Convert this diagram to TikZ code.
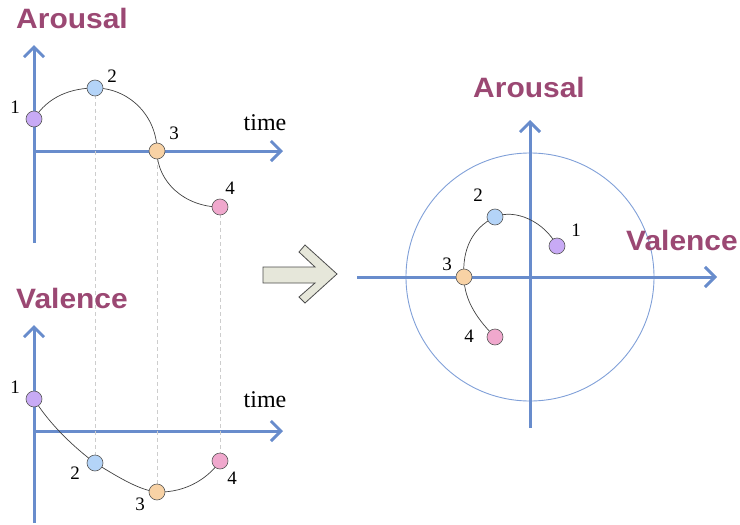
\documentclass[tikz,border=0pt]{standalone}
\usepackage{fontspec}
\setmainfont{Liberation Serif}
\newfontfamily\labfont{Liberation Sans}
\usetikzlibrary{arrows.meta,backgrounds}
\definecolor{labpurple}{RGB}{155,72,115}
\definecolor{axisblue}{RGB}{104,140,204}
\definecolor{ringblue}{RGB}{128,160,216}
\definecolor{ptone}{RGB}{200,170,245}
\definecolor{pttwo}{RGB}{180,212,248}
\definecolor{ptthree}{RGB}{248,210,165}
\definecolor{ptfour}{RGB}{240,168,205}
\definecolor{arrowfill}{RGB}{230,231,218}
\definecolor{guidegray}{RGB}{205,205,205}
\tikzset{
  pt/.style={circle,draw=black!65,line width=0.6pt,minimum size=16pt,inner sep=0pt},
  axisline/.style={draw=axisblue,line width=3pt,-{Straight Barb[length=10pt,width=20pt]}},
  curveline/.style={draw=black!75,line width=0.7pt},
  guide/.style={draw=guidegray,line width=0.8pt,dash pattern=on 4pt off 3pt},
  axislabel/.style={font=\labfont\bfseries\fontsize{28}{28}\selectfont,text=labpurple,xscale=1.07,inner sep=0pt,anchor=base},
  numlabel/.style={font=\fontsize{19}{19}\selectfont,inner sep=0pt},
  timelabel/.style={font=\fontsize{24}{24}\selectfont,inner sep=0pt,anchor=base},
}
\begin{document}
\begin{tikzpicture}[x=1pt,y=-1pt]
\useasboundingbox (0,0) rectangle (740,525);
% ---------- top-left: Arousal vs time
\node[axislabel] (tA) at (72,28) {Arousal};
\node[timelabel] (tT) at (265,130) {time};
\node[pt,fill=ptone]   (a1) at (34,119) {};
\node[pt,fill=pttwo]   (a2) at (95,88) {};
\node[pt,fill=ptthree] (a3) at (157,151) {};
\node[pt,fill=ptfour]  (a4) at (220,207) {};
\node[numlabel] (na1) at (15,107) {1};
\node[numlabel] (na2) at (112,76) {2};
\node[numlabel] (na3) at (174,133) {3};
\node[numlabel] (na4) at (230,188) {4};
% ---------- bottom-left: Valence vs time
\node[axislabel] (vA) at (72,308) {Valence};
\node[timelabel] (vT) at (265,407) {time};
\node[pt,fill=ptone]   (v1) at (34,399) {};
\node[pt,fill=pttwo]   (v2) at (95,463) {};
\node[pt,fill=ptthree] (v3) at (157,492) {};
\node[pt,fill=ptfour]  (v4) at (220,461) {};
\node[numlabel] (nv1) at (15,387) {1};
\node[numlabel] (nv2) at (75,473) {2};
\node[numlabel] (nv3) at (140,504) {3};
\node[numlabel] (nv4) at (232,478) {4};
% ---------- right: valence-arousal plane
\node[axislabel] (cA) at (529,97) {Arousal};
\node[axislabel] (cV) at (682,250) {Valence};
\node[pt,fill=ptone]   (c1) at (557,246) {};
\node[pt,fill=pttwo]   (c2) at (495,217) {};
\node[pt,fill=ptthree] (c3) at (464,277) {};
\node[pt,fill=ptfour]  (c4) at (495,337) {};
\node[numlabel] (nc1) at (576,230) {1};
\node[numlabel] (nc2) at (478,195) {2};
\node[numlabel] (nc3) at (447,264) {3};
\node[numlabel] (nc4) at (469,336) {4};
% ---------- block arrow
\node (blk) at (300,274) {};
\draw[draw=black!70,fill=arrowfill,line width=0.8pt]
  (263,267) -- (315,267) -- (299,252) -- (305,245) -- (337,274)
  -- (305,303) -- (299,297) -- (315,283) -- (263,283) -- cycle;
\begin{scope}[on background layer]
  % axes
  \coordinate (ay0) at (34,243);  \coordinate (ay1) at (34,45);
  \coordinate (ax0) at (34,151);  \coordinate (ax1) at (283,151);
  \coordinate (vy0) at (34,523);  \coordinate (vy1) at (34,325);
  \coordinate (vx0) at (34,431);  \coordinate (vx1) at (283,431);
  \coordinate (cx0) at (357,277); \coordinate (cx1) at (717,277);
  \coordinate (cy0) at (530,428); \coordinate (cy1) at (530,120);
  \coordinate (ctr) at (530,277);
  \draw[draw=ringblue,line width=0.9pt] (ctr) circle[radius=124];
  \draw[axisline] (ay0) -- (ay1);
  \draw[axisline] (ax0) -- (ax1);
  \draw[axisline] (vy0) -- (vy1);
  \draw[axisline] (vx0) -- (vx1);
  \draw[axisline] (cx0) -- (cx1);
  \draw[axisline] (cy0) -- (cy1);
  % guides
  \draw[guide] (a2.center) -- (v2.center);
  \draw[guide] (a3.center) -- (v3.center);
  \draw[guide] (a4.center) -- (v4.center);
  % curves
  \draw[curveline] (a1.center) .. controls (48,96) and (72,88) .. (a2.center);
  \draw[curveline] (a2.center) .. controls (129,88) and (157,116) .. (a3.center);
  \draw[curveline] (a3.center) .. controls (157,182) and (185,207) .. (a4.center);
  \draw[curveline] (v1.center) .. controls (50,425) and (75,448) .. (v2.center);
  \draw[curveline] (v2.center) .. controls (115,475) and (138,490) .. (v3.center);
  \draw[curveline] (v3.center) .. controls (188,493) and (210,476) .. (v4.center);
  \draw[curveline] (c1.center) .. controls (545,222) and (515,208) .. (c2.center);
  \draw[curveline] (c2.center) .. controls (472,228) and (462,250) .. (c3.center);
  \draw[curveline] (c3.center) .. controls (464,302) and (480,322) .. (c4.center);
\end{scope}
\end{tikzpicture}
\end{document}
